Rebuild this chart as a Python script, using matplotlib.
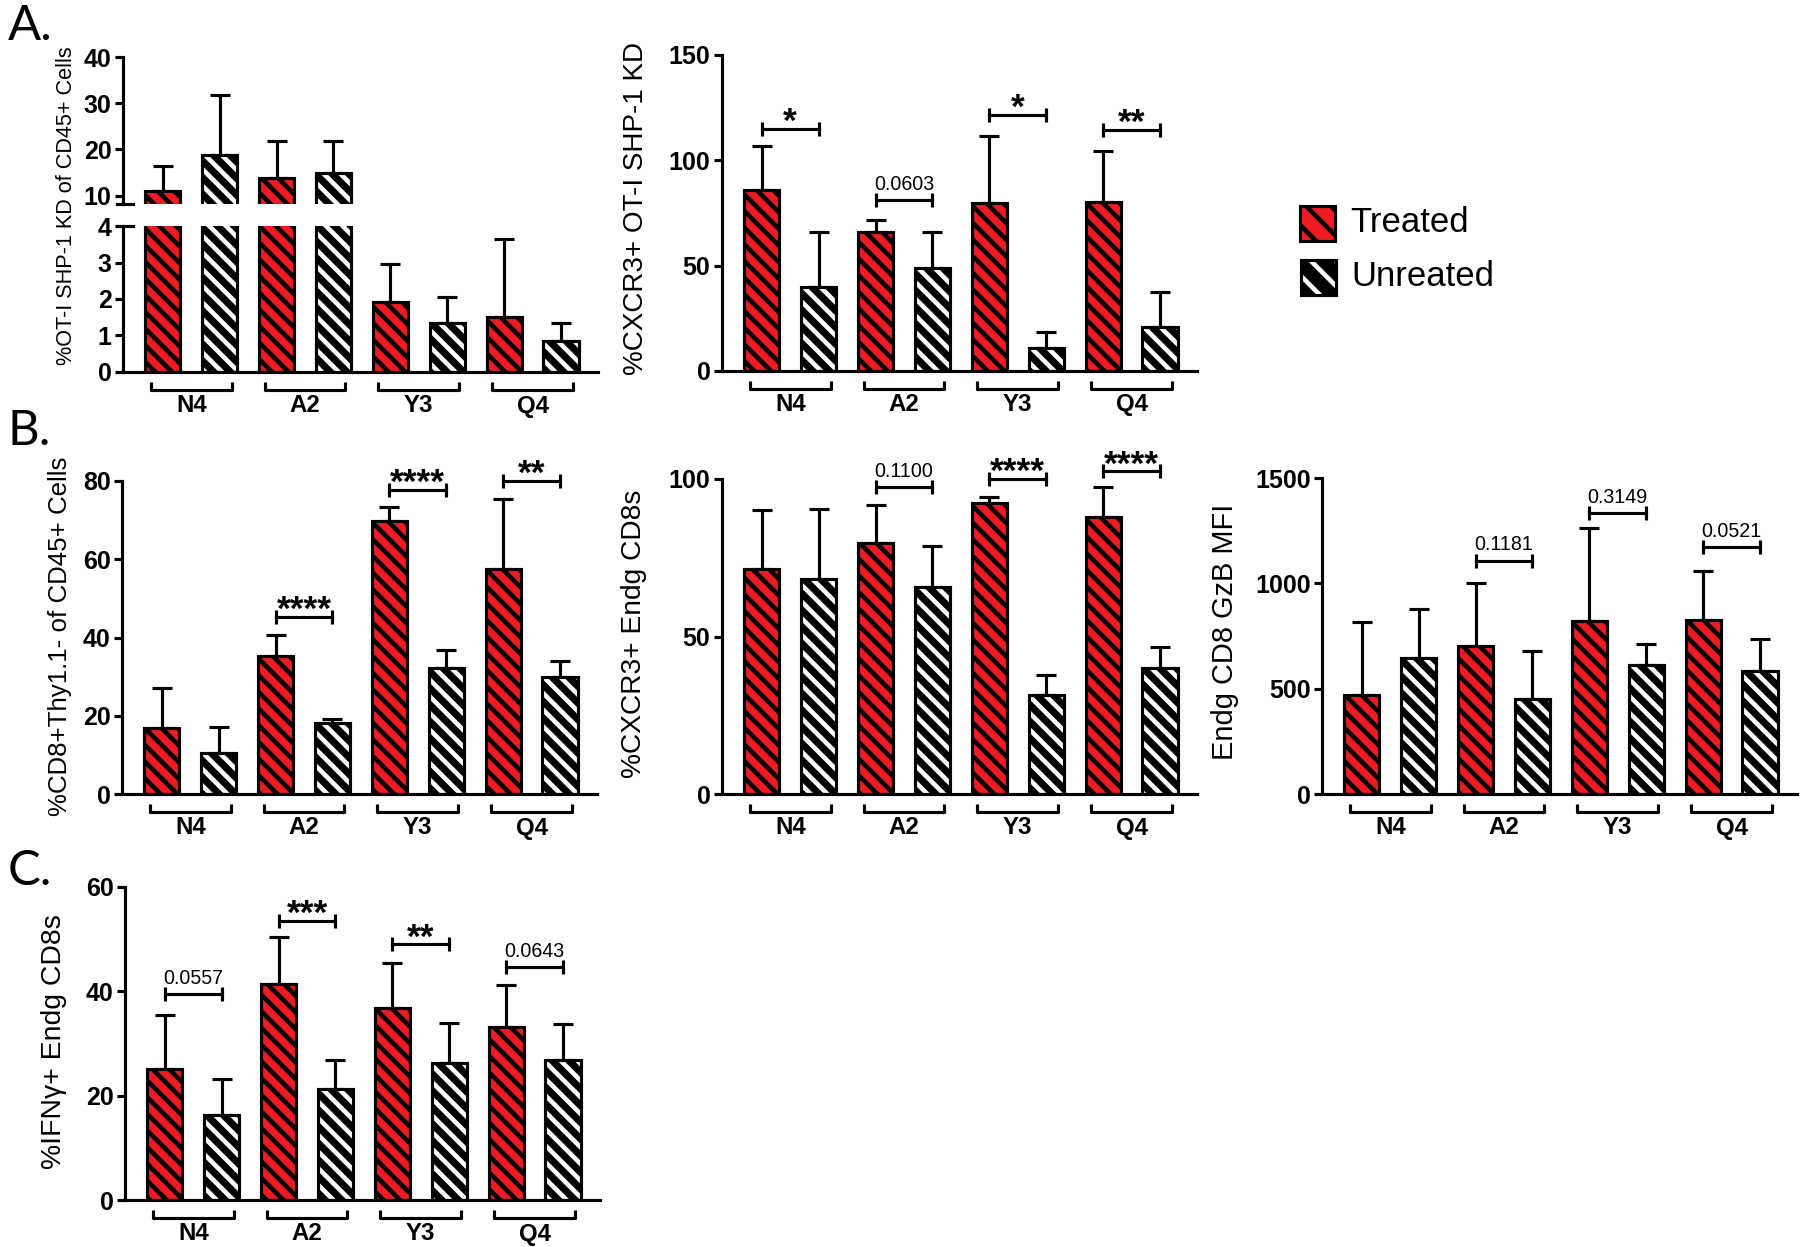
import numpy as np
import matplotlib.pyplot as plt
from matplotlib.patches import Rectangle
from matplotlib.transforms import blended_transform_factory

plt.rcParams['font.family'] = ['Liberation Sans', 'DejaVu Sans']
plt.rcParams['hatch.linewidth'] = 2.2

W, H = 1800, 1247
DPI = 150
red = '#ED1C24'
HATCH = '\\\\\\'

groups = ['N4', 'A2', 'Y3', 'Q4']

# A (left): %OT-I SHP-1 KD of CD45+ cells
ot1_treated = [11.1, 13.9, 1.93, 1.51]
ot1_treated_sd = [5.4, 8.0, 1.02, 2.14]
ot1_untreated = [18.8, 14.8, 1.34, 0.84]
ot1_untreated_sd = [13.0, 7.1, 0.72, 0.51]

# A (right): %CXCR3+ OT-I SHP-1 KD
cx_kd_treated = [85.9, 65.8, 79.7, 80.1]
cx_kd_treated_sd = [21.1, 6.0, 32.0, 24.3]
cx_kd_untreated = [39.7, 49.0, 11.1, 20.7]
cx_kd_untreated_sd = [26.4, 17.1, 7.6, 16.6]
cx_kd_sig = ['*', '0.0603', '*', '**']
cx_kd_sig_y = [115.0, 81.0, 121.5, 114.4]

# B (left): %CD8+Thy1.1- of CD45+ cells
cd8_treated = [16.8, 35.2, 69.8, 57.5]
cd8_treated_sd = [10.2, 5.4, 3.5, 17.8]
cd8_untreated = [10.6, 18.1, 32.3, 30.0]
cd8_untreated_sd = [6.6, 1.1, 4.5, 4.1]
cd8_sig = [None, '****', '****', '**']
cd8_sig_y = [None, 45.3, 77.7, 80.0]

# B (middle): %CXCR3+ Endg CD8s
cx_endg_treated = [71.4, 79.7, 92.4, 87.8]
cx_endg_treated_sd = [18.7, 11.9, 1.8, 9.8]
cx_endg_untreated = [68.2, 65.6, 31.4, 40.0]
cx_endg_untreated_sd = [22.3, 13.2, 6.4, 6.8]
cx_endg_sig = [None, '0.1100', '****', '****']
cx_endg_sig_y = [None, 97.4, 100.0, 102.4]

# B (right): Endg CD8 GzB MFI
gzb_treated = [468, 703, 823, 828]
gzb_treated_sd = [348, 299, 440, 232]
gzb_untreated = [646, 453, 614, 582]
gzb_untreated_sd = [234, 224, 100, 155]
gzb_sig = [None, '0.1181', '0.3149', '0.0521']
gzb_sig_y = [None, 1108, 1332, 1171]

# C: %IFNg+ Endg CD8s
ifn_treated = [25.2, 41.5, 36.8, 33.2]
ifn_treated_sd = [10.3, 8.9, 8.6, 8.0]
ifn_untreated = [16.2, 21.3, 26.2, 26.9]
ifn_untreated_sd = [7.0, 5.6, 7.7, 6.8]
ifn_sig = ['0.0557', '***', '**', '0.0643']
ifn_sig_y = [39.5, 53.5, 49.0, 44.6]

fig = plt.figure(figsize=(W / DPI, H / DPI), dpi=DPI)


def add_ax(x, top, bottom, width=475):
    return fig.add_axes([x / W, 1 - bottom / H, width / W, (bottom - top) / H])


def draw_bars(ax, t, t_sd, u, u_sd):
    xt = np.arange(4) * 2
    xu = xt + 1
    zeros = np.zeros(4)
    ax.errorbar(xt, t, yerr=[zeros, t_sd], fmt='none', ecolor='black',
                elinewidth=1.5, capsize=4.6, capthick=1.5, zorder=1)
    ax.errorbar(xu, u, yerr=[zeros, u_sd], fmt='none', ecolor='black',
                elinewidth=1.5, capsize=4.6, capthick=1.5, zorder=1)
    ax.bar(xt, t, width=0.62, color=red, edgecolor='black', hatch=HATCH,
           linewidth=0, zorder=2)
    ax.bar(xu, u, width=0.62, color='black', edgecolor='white', hatch=HATCH,
           linewidth=0, zorder=2)
    ax.bar(np.r_[xt, xu], list(t) + list(u), width=0.62, fill=False,
           edgecolor='black', linewidth=1.5, zorder=3)


def style_ax(ax, ticks, ylim, bottom=True):
    ax.set_xlim(-0.7, 7.65)
    ax.set_ylim(*ylim)
    for s in ['top', 'right']:
        ax.spines[s].set_visible(False)
    ax.spines['left'].set_linewidth(1.5)
    ax.spines['bottom'].set_linewidth(1.5)
    ax.spines['bottom'].set_visible(bottom)
    ax.set_xticks([])
    ax.set_yticks(ticks)
    ax.set_yticklabels([str(v) for v in ticks], fontsize=12, fontweight='bold')
    ax.tick_params(axis='y', length=4, width=1.5, pad=1.5)


def group_labels(ax, base):
    trans = blended_transform_factory(ax.transData, fig.transFigure)
    for g, name in enumerate(groups):
        x1, x2 = 2 * g - 0.21, 2 * g + 1.21
        yb = 1 - (base + 18) / H
        yt = 1 - (base + 10) / H
        ax.plot([x1, x1, x2, x2], [yt, yb, yb, yt], color='black', lw=1.5,
                transform=trans, clip_on=False, solid_capstyle='butt')
        ax.text(2 * g + 0.5, 1 - (base + 34) / H, name, transform=trans,
                ha='center', va='center', fontsize=11.5, fontweight='bold')


def sig_brackets(ax, labels, ys):
    for g, (lab, y) in enumerate(zip(labels, ys)):
        if lab is None:
            continue
        x1, x2 = 2 * g, 2 * g + 1
        ax.plot([x1, x2], [y, y], color='black', lw=1.5, clip_on=False)
        ax.plot([x1, x2], [y, y], ls='none', marker='|', ms=6.7, mew=1.5,
                color='black', clip_on=False)
        if '*' in lab:
            ax.annotate(lab, ((x1 + x2) / 2, y), xytext=(0, -1.5),
                        textcoords='offset points', ha='center', va='baseline',
                        fontsize=17, fontweight='bold', annotation_clip=False)
        else:
            ax.annotate(lab, ((x1 + x2) / 2, y), xytext=(0, 5),
                        textcoords='offset points', ha='center', va='baseline',
                        fontsize=9.4, annotation_clip=False)


def ylabel(text, x, y, size):
    fig.text(x / W, 1 - y / H, text, rotation=90, ha='center', va='center',
             fontsize=size)


# A left: broken axis
ax_up = add_ax(123, 57, 204)
ax_lo = add_ax(123, 226, 372)
draw_bars(ax_up, ot1_treated, ot1_treated_sd, ot1_untreated, ot1_untreated_sd)
draw_bars(ax_lo, ot1_treated, ot1_treated_sd, ot1_untreated, ot1_untreated_sd)
style_ax(ax_up, [10, 20, 30, 40], (8.2, 40), bottom=False)
style_ax(ax_lo, [0, 1, 2, 3, 4], (0, 4))
ax_up.plot([-0.013, 0.021], [0, 0], color='black', lw=1.5,
           transform=ax_up.transAxes, clip_on=False)
ax_lo.plot([-0.013, 0.021], [1, 1], color='black', lw=1.5,
           transform=ax_lo.transAxes, clip_on=False)
group_labels(ax_lo, 372)
ylabel('%OT-I SHP-1 KD of CD45+ Cells', 67, 206, 10.4)

# A right
ax = add_ax(722, 55, 371)
draw_bars(ax, cx_kd_treated, cx_kd_treated_sd, cx_kd_untreated, cx_kd_untreated_sd)
style_ax(ax, [0, 50, 100, 150], (0, 150))
sig_brackets(ax, cx_kd_sig, cx_kd_sig_y)
group_labels(ax, 371)
ylabel('%CXCR3+ OT-I SHP-1 KD', 636, 208, 13.4)

# B left
ax = add_ax(122, 481, 794)
draw_bars(ax, cd8_treated, cd8_treated_sd, cd8_untreated, cd8_untreated_sd)
style_ax(ax, [0, 20, 40, 60, 80], (0, 80))
sig_brackets(ax, cd8_sig, cd8_sig_y)
group_labels(ax, 794)
ylabel('%CD8+Thy1.1- of CD45+ Cells', 60, 636, 12.4)

# B middle
ax = add_ax(722, 479, 794)
draw_bars(ax, cx_endg_treated, cx_endg_treated_sd, cx_endg_untreated, cx_endg_untreated_sd)
style_ax(ax, [0, 50, 100], (0, 100))
sig_brackets(ax, cx_endg_sig, cx_endg_sig_y)
group_labels(ax, 794)
ylabel('%CXCR3+ Endg CD8s', 634, 634, 13.5)

# B right
ax = add_ax(1322, 478, 794)
draw_bars(ax, gzb_treated, gzb_treated_sd, gzb_untreated, gzb_untreated_sd)
style_ax(ax, [0, 500, 1000, 1500], (0, 1500))
sig_brackets(ax, gzb_sig, gzb_sig_y)
group_labels(ax, 794)
ylabel('Endg CD8 GzB MFI', 1225, 632, 13.9)

# C
ax = add_ax(125, 887, 1200)
draw_bars(ax, ifn_treated, ifn_treated_sd, ifn_untreated, ifn_untreated_sd)
style_ax(ax, [0, 20, 40, 60], (0, 60))
sig_brackets(ax, ifn_sig, ifn_sig_y)
group_labels(ax, 1200)
ylabel('%IFN\u03b3+ Endg CD8s', 54, 1042, 13.6)

# panel letters
for letter, base in [('A.', 40), ('B.', 445), ('C.', 885)]:
    fig.text(8 / W, 1 - base / H, letter, fontsize=23.5, family='Lato',
             va='baseline', ha='left')

# legend
for (x, y, fc, hc, label) in [(1300, 206, red, 'black', 'Treated'),
                              (1301, 260, 'black', 'white', 'Unreated')]:
    fig.add_artist(Rectangle((x / W, 1 - (y + 35) / H), 35 / W, 35 / H,
                             transform=fig.transFigure, facecolor=fc,
                             edgecolor=hc, hatch='\\\\', linewidth=0))
    fig.add_artist(Rectangle((x / W, 1 - (y + 35) / H), 35 / W, 35 / H,
                             transform=fig.transFigure, fill=False,
                             edgecolor='black', linewidth=1.5))
    fig.text((x + 50) / W, 1 - (y + 17) / H, label, fontsize=16.7,
             va='center', ha='left')

fig.savefig('out.png', dpi=DPI)
